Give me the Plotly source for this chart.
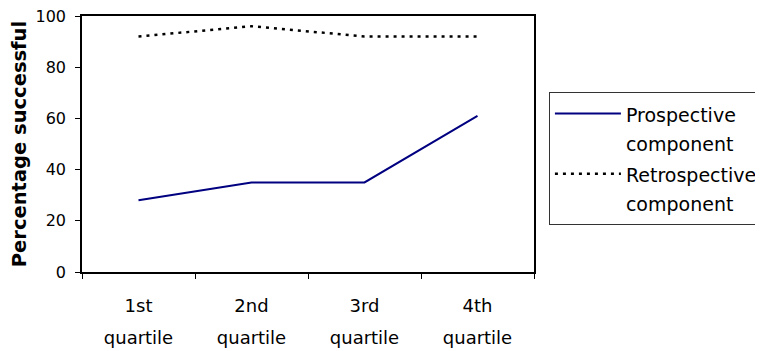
import plotly.graph_objects as go

categories = ["1st", "2nd", "3rd", "4th"]
category_sub = ["quartile", "quartile", "quartile", "quartile"]
prospective = [28, 35, 35, 61]
retrospective = [92, 96, 92, 92]
y_ticks = [0, 20, 40, 60, 80, 100]
series_names = [["Prospective", "component"], ["Retrospective", "component"]]

font = "DejaVu Sans, Verdana, sans-serif"


def two_line(a, b, size):
    return (f"<span style='font-size:{size}px'>{a}</span><br>"
            f"<span style='font-size:{size}px'>{b}</span>")


tick_text = [two_line(a, b, 18) for a, b in zip(categories, category_sub)]

fig = go.Figure()
fig.add_trace(go.Scatter(x=categories, y=prospective, mode="lines",
                         name=two_line(*series_names[0], 19),
                         line=dict(color="#000080", width=2)))
fig.add_trace(go.Scatter(x=categories, y=retrospective, mode="lines",
                         name=two_line(*series_names[1], 19),
                         line=dict(color="#000000", width=2.5, dash="3px,5px")))

fig.update_layout(
    width=755, height=343,
    margin=dict(l=74, r=229, t=8, b=79, autoexpand=False),
    paper_bgcolor="white", plot_bgcolor="white",
    font=dict(family=font, size=16, color="#000000"),
    showlegend=True,
    legend=dict(x=1.033, y=0.704, xanchor="left", yanchor="top",
                bordercolor="#333333", borderwidth=1,
                font=dict(size=22, family=font),
                itemwidth=66, tracegroupgap=0, valign="top",
                bgcolor="white"),
)
fig.update_xaxes(type="category", tickson="boundaries", ticks="outside", ticklen=5,
                 tickvals=categories, ticktext=tick_text, ticklabelstandoff=8,
                 automargin=False,
                 tickcolor="#000000", showline=True, linecolor="#000000", linewidth=1.5,
                 mirror=True, showgrid=False, tickfont=dict(size=25, family=font),
                 range=[-0.5, 3.5])
fig.update_yaxes(range=[0, 100], tickvals=y_ticks, ticks="outside", ticklen=5,
                 automargin=False,
                 tickcolor="#000000", showline=True, linecolor="#000000", linewidth=1.5,
                 mirror=True, showgrid=False, zeroline=False, ticklabeloverflow="allow",
                 tickfont=dict(size=16, family=font), ticklabelstandoff=6,
                 title=dict(text="<b>Percentage successful</b>",
                            font=dict(size=19.5, family=font), standoff=14))

fig.write_html("out.html")
